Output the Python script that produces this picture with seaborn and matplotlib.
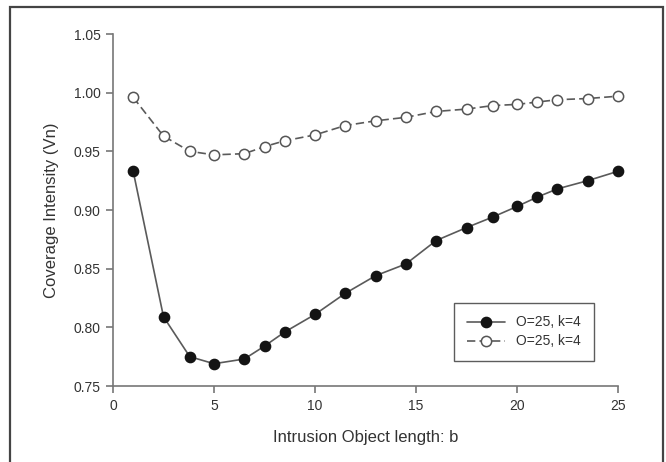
import matplotlib
matplotlib.use("Agg")
import matplotlib.pyplot as plt
import seaborn as sns
import pandas as pd
from matplotlib.patches import Rectangle

# Intrusion object length b and coverage intensity for the two configurations
b_length = [1, 2.5, 3.8, 5, 6.5, 7.5, 8.5, 10, 11.5, 13, 14.5, 16, 17.5, 18.8, 20, 21, 22, 23.5, 25]
vn_filled = [0.933, 0.809, 0.775, 0.769, 0.773, 0.784, 0.796, 0.811, 0.829, 0.844, 0.854,
             0.874, 0.885, 0.894, 0.903, 0.911, 0.918, 0.925, 0.933]
vn_open = [0.996, 0.963, 0.950, 0.947, 0.948, 0.954, 0.959, 0.964, 0.972, 0.976, 0.979,
           0.984, 0.986, 0.989, 0.990, 0.992, 0.994, 0.995, 0.997]
series_labels = ["O=25, k=4", "O=25, k=4"]

x_ticks = [0, 5, 10, 15, 20, 25]
y_ticks = [0.75, 0.80, 0.85, 0.90, 0.95, 1.00, 1.05]

sns.set_theme(style="ticks")
plt.rcParams["font.family"] = ["Liberation Sans", "DejaVu Sans"]

df = pd.DataFrame({"b": b_length, "filled": vn_filled, "open": vn_open})

fig = plt.figure(figsize=(6.66, 4.62), dpi=100)
ax = fig.add_axes([113 / 666, 1 - 386 / 462, 505 / 666, 352 / 462])

line_col = "#5a5a5a"
sns.lineplot(data=df, x="b", y="filled", ax=ax, color=line_col, lw=1.2,
             marker="o", markersize=7.4, markerfacecolor="#141414",
             markeredgecolor="#141414", markeredgewidth=1.0,
             label=series_labels[0], clip_on=False, zorder=3)
sns.lineplot(data=df, x="b", y="open", ax=ax, color=line_col, lw=1.2,
             linestyle=(0, (5, 2.5)),
             marker="o", markersize=7.4, markerfacecolor="white",
             markeredgecolor="#555555", markeredgewidth=1.1,
             label=series_labels[1], clip_on=False, zorder=3)

ax.set_xlim(0, 25)
ax.set_ylim(0.75, 1.05)
ax.set_xticks(x_ticks)
ax.set_xticklabels([str(t) for t in x_ticks])
ax.set_yticks(y_ticks)
ax.set_yticklabels([f"{t:.2f}" for t in y_ticks])

sns.despine(ax=ax)
for side in ("left", "bottom"):
    ax.spines[side].set_color("#777777")
    ax.spines[side].set_linewidth(1.2)
ax.tick_params(direction="out", length=5, width=1.2, color="#777777",
               labelsize=10, labelcolor="#333333", pad=4)

ax.set_xlabel("Intrusion Object length: b", fontsize=12, color="#333333")
ax.set_ylabel("Coverage Intensity (Vn)", fontsize=12, color="#333333")
ax.xaxis.set_label_coords(0.5, -0.125)
ax.yaxis.set_label_coords(-0.107, 0.5)

leg = ax.legend(loc="upper left", bbox_to_anchor=(454 / 666, 1 - 303 / 462),
                bbox_transform=fig.transFigure, frameon=True, fancybox=False,
                fontsize=10, handlelength=2.8, handletextpad=0.8,
                borderpad=0.9, labelspacing=0.35, borderaxespad=0)
frame = leg.get_frame()
frame.set_edgecolor("#333333")
frame.set_linewidth(1.0)
for txt in leg.get_texts():
    txt.set_color("#333333")

# outer border around the figure
fig.patches.append(Rectangle((10 / 666, -0.05), (663 - 10) / 666, 1.05 - 7 / 462,
                             transform=fig.transFigure, fill=False,
                             edgecolor="#444444", linewidth=1.6))

fig.savefig("out.png", dpi=100)
